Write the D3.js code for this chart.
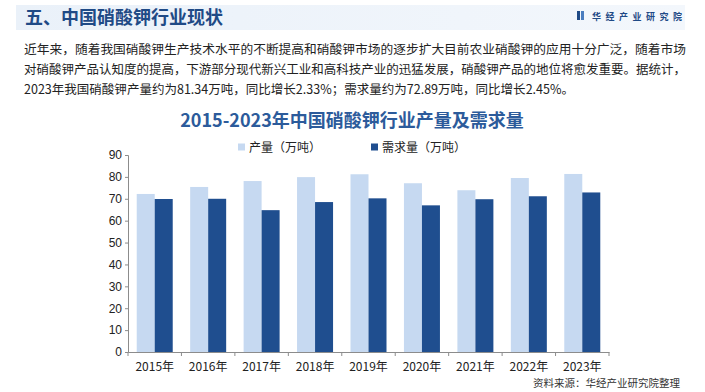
<!DOCTYPE html>
<html>
<head>
<meta charset="utf-8">
<script src="https://cdn.jsdelivr.net/npm/d3@7"></script>
<style>
  body { margin: 0; background: #fff; }
  svg { display: block; font-family: "Noto Sans CJK SC", "Liberation Sans", sans-serif; }
</style>
</head>
<body>
<div id="dataViz"></div>
<script>
/* data */
const years = ["2015年", "2016年", "2017年", "2018年", "2019年", "2020年", "2021年", "2022年", "2023年"];
const output = [72.2, 75.4, 78.1, 79.9, 81.2, 77.1, 73.9, 79.49, 81.34];
const demand = [69.9, 70.0, 64.8, 68.5, 70.2, 67.0, 69.8, 71.15, 72.89];
const seriesNames = ["产量（万吨）", "需求量（万吨）"];
const yTicks = [0, 10, 20, 30, 40, 50, 60, 70, 80, 90];
const introLines = [
  "近年来，随着我国硝酸钾生产技术水平的不断提高和硝酸钾市场的逐步扩大目前农业硝酸钾的应用十分广泛，随着市场",
  "对硝酸钾产品认知度的提高，下游部分现代新兴工业和高科技产业的迅猛发展，硝酸钾产品的地位将愈发重要。据统计，",
  "2023年我国硝酸钾产量约为81.34万吨，同比增长2.33%；需求量约为72.89万吨，同比增长2.45%。"
];

const W = 705, H = 392;
const colors = ["#c6d9f1", "#1f4e8f"];

const svg = d3.select("#dataViz")
  .append("svg")
  .attr("width", W)
  .attr("height", H);

/* header band */
const grad = svg.append("defs").append("linearGradient").attr("id", "band");
grad.append("stop").attr("offset", "0%").attr("stop-color", "#eaf1f9");
grad.append("stop").attr("offset", "100%").attr("stop-color", "#f3f7fc");
svg.append("rect").attr("x", 16).attr("y", 5).attr("width", 669).attr("height", 25)
  .attr("fill", "url(#band)");
svg.append("text").attr("x", 25).attr("y", 24)
  .attr("font-size", 18).attr("font-weight", "bold").attr("fill", "#1f4a86")
  .text("五、中国硝酸钾行业现状");

// logo
svg.append("rect").attr("x", 577).attr("y", 11).attr("width", 3).attr("height", 9).attr("fill", "#1f4a86");
svg.append("rect").attr("x", 581).attr("y", 11).attr("width", 3).attr("height", 9).attr("fill", "#4a7dbf");
svg.append("text").attr("x", 592).attr("y", 19.5)
  .attr("font-size", 9).attr("font-weight", "bold").attr("fill", "#1f4a86")
  .attr("textLength", 90).attr("lengthAdjust", "spacing")
  .text("华经产业研究院");

/* intro paragraph */
svg.append("g").selectAll("text")
  .data(introLines)
  .enter()
  .append("text")
  .attr("x", 24)
  .attr("y", (d, i) => 54 + i * 20)
  .attr("font-size", 12.5)
  .attr("fill", "#222")
  .attr("textLength", (d, i) => i === 2 ? 550 : 662)
  .attr("lengthAdjust", "spacingAndGlyphs")
  .text(d => d);

/* chart title */
svg.append("text").attr("x", 352).attr("y", 127)
  .attr("text-anchor", "middle")
  .attr("font-size", 18).attr("font-weight", "bold").attr("fill", "#2c5b9b")
  .text("2015-2023年中国硝酸钾行业产量及需求量");

/* legend */
const legend = svg.append("g").selectAll("g")
  .data(seriesNames)
  .enter()
  .append("g")
  .attr("transform", (d, i) => `translate(${238 + i * 133}, 147)`);
legend.append("rect").attr("x", 0).attr("y", -3.5).attr("width", 7).attr("height", 7)
  .attr("fill", (d, i) => colors[i]);
legend.append("text").attr("x", 11).attr("y", 4.5)
  .attr("font-size", 12).attr("fill", "#222")
  .text(d => d);

/* scales */
const margin = { left: 128, right: 96, top: 155, bottom: 40 };
const x = d3.scaleBand().domain(years).range([margin.left, W - margin.right]);
const y = d3.scaleLinear().domain([0, 90]).range([352, 155]);
const inner = d3.scaleBand().domain([0, 1]).range([0, 36]);
const pad = (x.bandwidth() - 36) / 2;

/* bars */
const groups = svg.append("g").selectAll("g")
  .data(years)
  .enter()
  .append("g")
  .attr("transform", d => `translate(${x(d) + pad}, 0)`);
groups.selectAll("rect")
  .data((d, i) => [output[i], demand[i]])
  .enter()
  .append("rect")
  .attr("x", (d, j) => inner(j))
  .attr("y", d => y(d))
  .attr("width", inner.bandwidth())
  .attr("height", d => y(0) - y(d))
  .attr("fill", (d, j) => colors[j]);

/* axes */
const yAxis = svg.append("g")
  .attr("transform", `translate(${margin.left}, 0)`)
  .call(d3.axisLeft(y).tickValues(yTicks).tickSize(3).tickSizeOuter(3));
const xAxis = svg.append("g")
  .attr("transform", `translate(0, ${y(0)})`)
  .call(d3.axisBottom(x).tickSize(0));
// boundary ticks between bands
xAxis.selectAll(".sep")
  .data(d3.range(years.length + 1))
  .enter()
  .append("line")
  .attr("x1", i => margin.left + i * x.step())
  .attr("x2", i => margin.left + i * x.step())
  .attr("y1", 0).attr("y2", 4)
  .attr("stroke", "#8c8c8c");

[yAxis, xAxis].forEach(a => {
  a.select(".domain").attr("stroke", "#8c8c8c");
  a.selectAll(".tick line").attr("stroke", "#8c8c8c");
  a.selectAll("text").attr("font-size", 12).attr("fill", "#222")
    .attr("font-family", "'Liberation Sans', 'Noto Sans CJK SC', sans-serif");
});
xAxis.selectAll("text").attr("dy", "1.35em")
  .attr("font-family", "'Noto Sans CJK SC', sans-serif").attr("font-size", 12);

/* source */
svg.append("text").attr("x", 680).attr("y", 387)
  .attr("text-anchor", "end")
  .attr("font-size", 10.5).attr("fill", "#333")
  .text("资料来源：华经产业研究院整理");
</script>
</body>
</html>
